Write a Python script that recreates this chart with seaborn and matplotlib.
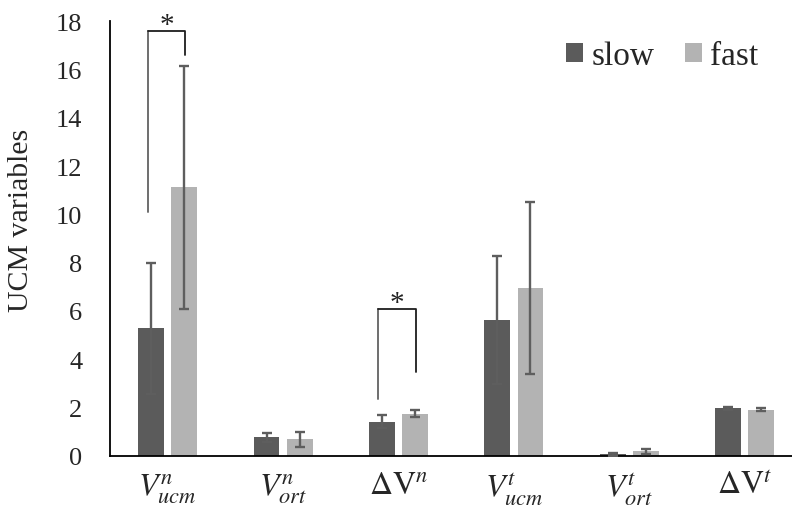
import numpy as np
import pandas as pd
import matplotlib
matplotlib.use("Agg")
import matplotlib.pyplot as plt
import seaborn as sns

# UCM variables per condition (mean and SD)
categories = ["Vucm_n", "Vort_n", "dV_n", "Vucm_t", "Vort_t", "dV_t"]
tick_labels = [r"$V_{ucm}^{n}$", r"$V_{ort}^{n}$", r"$\Delta\mathrm{V}^{n}$",
               r"$V_{ucm}^{t}$", r"$V_{ort}^{t}$", r"$\Delta\mathrm{V}^{t}$"]
conditions = ["slow", "fast"]
slow_mean = [5.28, 0.77, 1.41, 5.63, 0.08, 1.97]
slow_sd = [2.70, 0.19, 0.27, 2.65, 0.06, 0.06]
fast_mean = [11.12, 0.69, 1.75, 6.94, 0.19, 1.92]
fast_sd = [5.03, 0.32, 0.14, 3.56, 0.12, 0.07]

# significance brackets: category index, left leg end, top, right leg end
sig_cats = [0, 2]
sig_left = [10.1, 2.36]
sig_top = [17.57, 6.08]
sig_right = [16.59, 3.49]

colors = {"slow": "#5b5b5b", "fast": "#b3b3b3"}
err_color = "#5e5e5e"

df = pd.DataFrame({
    "category": categories * 2,
    "condition": ["slow"] * len(categories) + ["fast"] * len(categories),
    "value": slow_mean + fast_mean,
    "sd": slow_sd + fast_sd,
})

sns.set_style("white")
plt.rcParams["font.family"] = ["Liberation Serif", "DejaVu Serif"]
plt.rcParams["mathtext.fontset"] = "stix"

fig = plt.figure(figsize=(7.92, 5.10), dpi=100)
ax = fig.add_axes([110 / 792, 1 - 457 / 510, 1 - 110 / 792, (457 - 22) / 510])

sns.barplot(data=df, x="category", y="value", hue="condition",
            hue_order=conditions, order=categories, palette=colors,
            width=0.575, gap=0.22, errorbar=None, linewidth=0,
            saturation=1, ax=ax)

# error bars centred on each drawn bar
bars = ax.patches[: 2 * len(categories)]
centers = {}
for i, cond in enumerate(conditions):
    sub = df[df["condition"] == cond]
    for j, (_, row) in enumerate(sub.iterrows()):
        bar = bars[i * len(categories) + j]
        xc = bar.get_x() + bar.get_width() / 2
        centers[(cond, j)] = xc
        ax.errorbar(xc, row["value"], yerr=row["sd"], fmt="none",
                    ecolor=err_color, elinewidth=1.7, capsize=3.4,
                    capthick=1.7, zorder=3)

# significance brackets
for k, c in enumerate(sig_cats):
    xl = centers[("slow", c)] - 0.03
    xr = centers[("fast", c)] + 0.01
    ax.plot([xl, xl], [sig_left[k], sig_top[k]], color="#6e6e6e", lw=1.4,
            clip_on=False, zorder=4)
    ax.plot([xl, xr, xr], [sig_top[k], sig_top[k], sig_right[k]],
            color="#1e1e1e", lw=1.3, clip_on=False, zorder=4)
    ax.text((xl + xr) / 2, sig_top[k] - 0.28, "*", ha="center", va="bottom",
            fontsize=21, color="#222222", clip_on=False)

ax.set_xlim(-0.5, 5.41)
ax.set_ylim(0, 18)
ax.set_yticks(np.arange(0, 19, 2))
ax.tick_params(axis="y", labelsize=19, length=0, pad=20)
ax.tick_params(axis="x", labelsize=23, length=0, pad=11)
ax.set_xticks(range(len(categories)))
ax.set_xticklabels(tick_labels)
ax.set_xlabel("")
ax.set_ylabel("UCM variables", fontsize=21.5)
ax.yaxis.set_label_coords(-0.111, 0.545)

for side in ["top", "right"]:
    ax.spines[side].set_visible(False)
for side in ["left", "bottom"]:
    ax.spines[side].set_color("black")
    ax.spines[side].set_linewidth(1.3)

leg = ax.legend(loc="upper right", bbox_to_anchor=(0.951, 0.955), ncol=2,
                frameon=False, fontsize=24, handlelength=0.52, handleheight=0.52,
                handletextpad=0.25, columnspacing=0.9, borderpad=0,
                borderaxespad=0)

fig.savefig("out.png", dpi=100)
